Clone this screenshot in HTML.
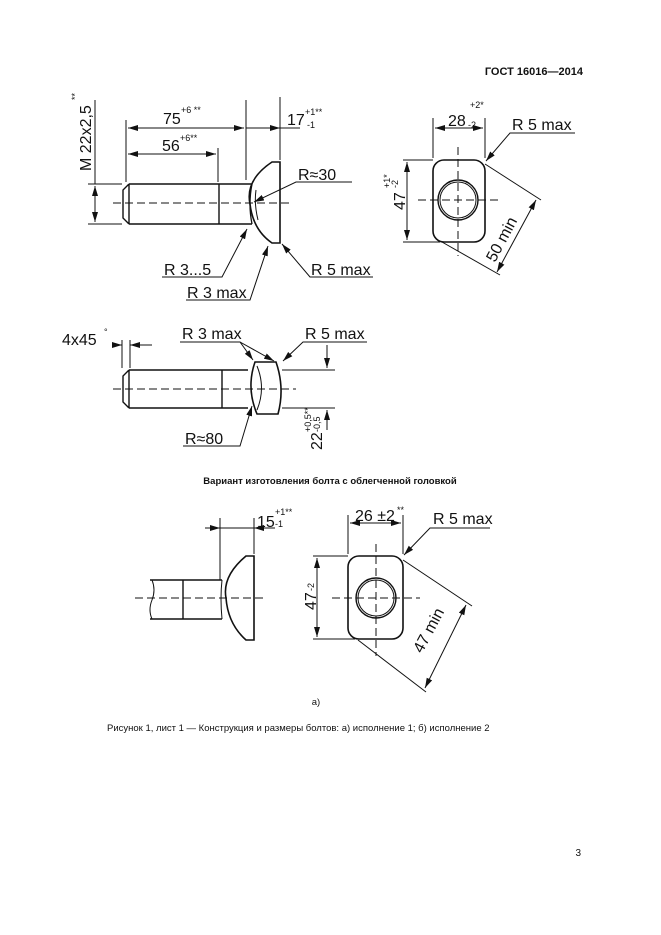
<!DOCTYPE html>
<html><head><meta charset="utf-8"><style>
body{margin:0;background:#fff}
svg{display:block}
text{font-family:"Liberation Sans",sans-serif;fill:#111}
.d{font-size:16px}
.s{font-size:9px}
</style></head><body>
<svg width="661" height="935" viewBox="0 0 661 935" xmlns="http://www.w3.org/2000/svg">
<defs>
<marker id="a" viewBox="0 0 10 6" refX="10" refY="3" markerWidth="10" markerHeight="6" orient="auto-start-reverse" markerUnits="userSpaceOnUse"><path d="M0,0L10,3L0,6z" fill="#111"/></marker>
</defs>
<text x="583" y="75" font-size="11" font-weight="bold" text-anchor="end">ГОСТ 16016—2014</text>

<g stroke="#111" fill="none" stroke-width="1">
<!-- TOP BOLT -->
<path d="M129,184 L252,184 M129,224 L252,224 M129,184 L123,190 L123,218 L129,224 M129,184 L129,224 M219,184 L219,224" stroke-width="1.4"/>
<path d="M252,184 Q248,204 252,224" stroke-width="1.3"/>
<path d="M280,162 L272,162 Q245,180 250,204 Q253,230 272,243 L280,243 Z" stroke-width="1.6"/>
<path d="M256,190 Q254,204 258,220" />
<line x1="113" y1="203" x2="293" y2="203" stroke-dasharray="8,4"/>
<line x1="126" y1="120" x2="126" y2="182"/>
<line x1="246" y1="100" x2="246" y2="180"/>
<line x1="280" y1="97" x2="280" y2="160"/>
<line x1="218" y1="148" x2="218" y2="182"/>
<line x1="128" y1="128" x2="244" y2="128" marker-start="url(#a)" marker-end="url(#a)"/>
<line x1="246" y1="128" x2="280" y2="128" marker-end="url(#a)"/>
<line x1="280" y1="128" x2="300" y2="128"/>
<line x1="128" y1="154" x2="216" y2="154" marker-start="url(#a)" marker-end="url(#a)"/>
<line x1="88" y1="184" x2="122" y2="184"/>
<line x1="88" y1="224" x2="122" y2="224"/>
<line x1="95" y1="186" x2="95" y2="222" marker-start="url(#a)" marker-end="url(#a)"/>
<line x1="95" y1="100" x2="95" y2="184"/>
<path d="M352,182 L296,182 L254,202" marker-end="url(#a)"/>
<path d="M162,277 L222,277 L247,229" marker-end="url(#a)"/>
<path d="M186,300 L250,300 L268,246" marker-end="url(#a)"/>
<path d="M373,277 L310,277 L282,244" marker-end="url(#a)"/>

<!-- TOP RIGHT VIEW -->
<rect x="433" y="160" width="52" height="82" rx="11" stroke-width="1.6"/>
<circle cx="458" cy="200" r="20" stroke-width="1.4"/>
<circle cx="458" cy="200" r="18"/>
<line x1="458" y1="147" x2="458" y2="256" stroke-dasharray="8,4"/>
<line x1="418" y1="200" x2="500" y2="200" stroke-dasharray="8,4"/>
<line x1="433" y1="118" x2="433" y2="158"/>
<line x1="485" y1="118" x2="485" y2="158"/>
<line x1="435" y1="128" x2="483" y2="128" marker-start="url(#a)" marker-end="url(#a)"/>
<line x1="403" y1="160" x2="433" y2="160"/>
<line x1="403" y1="242" x2="440" y2="242"/>
<line x1="407" y1="162" x2="407" y2="240" marker-start="url(#a)" marker-end="url(#a)"/>
<path d="M575,133 L510,133 L486,161" marker-end="url(#a)"/>
<line x1="485" y1="164" x2="541" y2="200"/>
<line x1="442" y1="242" x2="500" y2="275"/>
<line x1="536" y1="200" x2="497" y2="272" marker-start="url(#a)" marker-end="url(#a)"/>

<!-- MIDDLE SIDE VIEW -->
<path d="M129,370 L248,370 M129,408 L248,408 M129,370 L123,376 L123,402 L129,408 M129,370 L129,408 M222,370 L222,408" stroke-width="1.4"/>
<path d="M255,362 L276,362 Q285,388 278,414 L257,414 Q246,388 255,362 Z" stroke-width="1.6"/>
<path d="M257,366 Q266,388 257,410"/>
<line x1="113" y1="389" x2="296" y2="389" stroke-dasharray="8,4"/>
<line x1="282" y1="370" x2="335" y2="370"/>
<line x1="282" y1="408" x2="335" y2="408"/>
<line x1="122" y1="340" x2="122" y2="368"/>
<line x1="130" y1="340" x2="130" y2="368"/>
<line x1="112" y1="345" x2="122" y2="345" marker-end="url(#a)"/>
<line x1="152" y1="345" x2="130" y2="345" marker-end="url(#a)"/>
<line x1="327" y1="345" x2="327" y2="368" marker-end="url(#a)"/>
<line x1="327" y1="430" x2="327" y2="410" marker-end="url(#a)"/>
<path d="M180,342 L240,342 L253,360" marker-end="url(#a)"/>
<path d="M240,342 L274,361" marker-end="url(#a)"/>
<path d="M367,342 L303,342 L283,361" marker-end="url(#a)"/>
<path d="M183,446 L240,446 L252,406" marker-end="url(#a)"/>

<!-- BOTTOM SIDE -->
<path d="M150,580 L222,580 M150,619 L222,619 M183,580 L183,619" stroke-width="1.4"/>
<path d="M152,580 Q156,590 152,600 Q148,610 152,619"/>
<path d="M254,556 L246,556 Q222,576 226,598 Q228,624 246,640 L254,640 Z" stroke-width="1.6"/>
<path d="M222,580 Q220,598 222,619"/>
<line x1="135" y1="598" x2="265" y2="598" stroke-dasharray="8,4"/>
<line x1="220" y1="518" x2="220" y2="580"/>
<line x1="254" y1="518" x2="254" y2="554"/>
<line x1="205" y1="528" x2="220" y2="528" marker-end="url(#a)"/>
<line x1="220" y1="528" x2="254" y2="528"/>
<line x1="275" y1="528" x2="254" y2="528" marker-end="url(#a)"/>

<!-- BOTTOM RIGHT -->
<rect x="348" y="556" width="55" height="83" rx="11" stroke-width="1.6"/>
<circle cx="376" cy="598" r="20" stroke-width="1.4"/>
<circle cx="376" cy="598" r="18"/>
<line x1="376" y1="544" x2="376" y2="656" stroke-dasharray="8,4"/>
<line x1="332" y1="598" x2="420" y2="598" stroke-dasharray="8,4"/>
<line x1="348" y1="515" x2="348" y2="554"/>
<line x1="403" y1="515" x2="403" y2="554"/>
<line x1="350" y1="523" x2="401" y2="523" marker-start="url(#a)" marker-end="url(#a)"/>
<line x1="313" y1="556" x2="348" y2="556"/>
<line x1="313" y1="639" x2="355" y2="639"/>
<line x1="317" y1="558" x2="317" y2="637" marker-start="url(#a)" marker-end="url(#a)"/>
<path d="M490,528 L430,528 L404,555" marker-end="url(#a)"/>
<line x1="403" y1="560" x2="472" y2="606"/>
<line x1="358" y1="640" x2="426" y2="692"/>
<line x1="466" y1="605" x2="425" y2="688" marker-start="url(#a)" marker-end="url(#a)"/>
</g>

<!-- TEXT top -->
<text class="d" x="163" y="124">75</text><text class="s" x="181" y="113">+6 **</text>
<text class="d" x="287" y="125">17</text><text class="s" x="305" y="115">+1**</text><text class="s" x="307" y="128">-1</text>
<text class="d" x="162" y="151">56</text><text class="s" x="180" y="141">+6**</text>
<text class="d" transform="translate(91,171) rotate(-90)">M 22x2,5</text><text class="s" transform="translate(78,100) rotate(-90)">**</text>
<text class="d" x="298" y="180">R≈30</text>
<text class="d" x="164" y="275">R 3...5</text>
<text class="d" x="187" y="298">R 3 max</text>
<text class="d" x="311" y="275">R 5 max</text>
<text class="d" x="448" y="126">28</text><text class="s" x="470" y="108">+2*</text><text class="s" x="468" y="128">-2</text>
<text class="d" x="512" y="130">R 5 max</text>
<text class="d" transform="translate(405,210) rotate(-90)">47</text><text class="s" transform="translate(398,188) rotate(-90)">-2</text><text class="s" transform="translate(390,188) rotate(-90)">+1*</text>
<text class="d" transform="translate(495,263) rotate(-62)">50 min</text>
<!-- middle -->
<text class="d" x="62" y="345">4x45</text><text class="s" x="104" y="335">°</text>
<text class="d" x="182" y="339">R 3 max</text>
<text class="d" x="305" y="339">R 5 max</text>
<text class="d" x="185" y="444">R≈80</text>
<text class="d" transform="translate(322,450) rotate(-90)">22</text><text class="s" transform="translate(311,432) rotate(-90)">+0,5**</text><text class="s" transform="translate(320,432) rotate(-90)">-0,5</text>
<text x="330" y="484" font-size="9.5" font-weight="bold" text-anchor="middle">Вариант изготовления болта с облегченной головкой</text>
<!-- bottom -->
<text class="d" x="257" y="527">15</text><text class="s" x="275" y="515">+1**</text><text class="s" x="275" y="527">-1</text>
<text class="d" x="355" y="521">26 ±2</text><text class="s" x="397" y="513">**</text>
<text class="d" x="433" y="524">R 5 max</text>
<text class="d" transform="translate(316,610) rotate(-90)">47</text><text class="s" transform="translate(314,591) rotate(-90)">-2</text>
<text class="d" transform="translate(422,654) rotate(-62)">47 min</text>
<text x="316" y="705" font-size="9.5" text-anchor="middle">а)</text>
<text x="107" y="731" font-size="9.5">Рисунок 1, лист 1 — Конструкция и размеры болтов: а) исполнение 1; б) исполнение 2</text>
<text x="581" y="856" font-size="10" text-anchor="end">3</text>
</svg>
</body></html>
